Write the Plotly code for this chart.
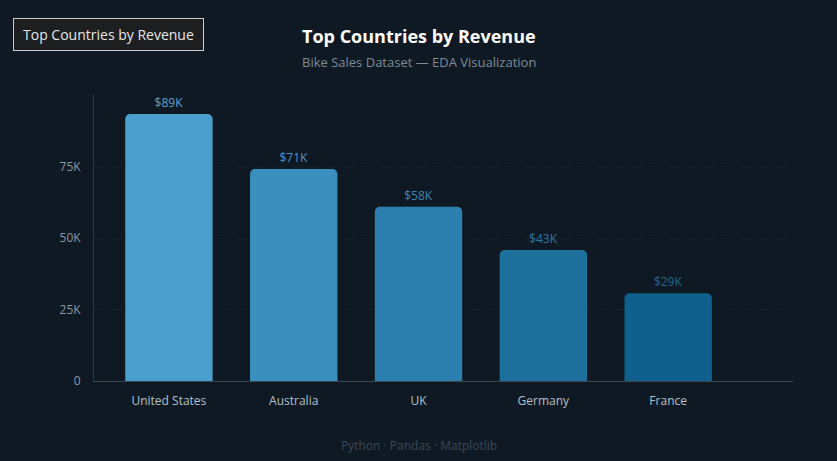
import plotly.graph_objects as go

countries = ["United States", "Australia", "UK", "Germany", "France"]
revenue = [93500, 74200, 61000, 45900, 30700]
labels = ["$89K", "$71K", "$58K", "$43K", "$29K"]
bar_colors = ["#4A9FCC", "#3A8FBF", "#2C80B0", "#1D6F9C", "#0E5F8C"]
label_colors = ["#5AA3D3", "#4A95C5", "#3A87B6", "#2B78A4", "#1E6A94"]
y_ticks = [0, 25000, 50000, 75000]
y_tick_text = ["0", "25K", "50K", "75K"]

BG = "#0F1923"
FONT = "Open Sans"

fig = go.Figure()
fig.add_trace(go.Bar(
    x=list(range(len(countries))),
    y=revenue,
    width=0.7,
    marker=dict(color=bar_colors, line=dict(width=0), cornerradius=5),
    text=labels,
    textposition="outside",
    textfont=dict(family=FONT, size=12, color=label_colors),
    cliponaxis=False,
    hoverinfo="skip",
))

fig.update_layout(
    width=837, height=461,
    paper_bgcolor=BG, plot_bgcolor=BG,
    margin=dict(l=94, r=44, t=94, b=80),
    showlegend=False,
    font=dict(family=FONT),
    xaxis=dict(
        range=[-0.6, 5.0],
        tickvals=list(range(len(countries))),
        ticktext=countries,
        tickfont=dict(family=FONT, size=12, color="#B4C0CC"),
        showgrid=False, zeroline=False,
        showline=True, linecolor="#3A4654", linewidth=1,
        ticks="", ticklabelstandoff=9,
    ),
    yaxis=dict(
        range=[0, 100500],
        tickvals=y_ticks, ticktext=y_tick_text,
        tickfont=dict(family=FONT, size=12, color="#8C98A5"),
        showgrid=True, gridcolor="#18232E", griddash="dash", gridwidth=1,
        zeroline=False,
        showline=True, linecolor="#2A3644", linewidth=1,
        ticks="", ticklabelstandoff=10,
    ),
    annotations=[
        dict(text="<b>Top Countries by Revenue</b>", xref="paper", yref="paper",
             x=(418.5 - 94) / 699, y=(381 - 36) / 287, xanchor="center", yanchor="middle",
             showarrow=False, font=dict(family=FONT, size=18, color="#FFFFFF")),
        dict(text="Bike Sales Dataset — EDA Visualization", xref="paper", yref="paper",
             x=(418.5 - 94) / 699, y=(381 - 62) / 287, xanchor="center", yanchor="middle",
             showarrow=False, font=dict(family=FONT, size=13, color="#7E8B98")),
        dict(text="Python · Pandas · Matplotlib", xref="paper", yref="paper",
             x=(418.5 - 94) / 699, y=(381 - 445) / 287, xanchor="center", yanchor="middle",
             showarrow=False, font=dict(family=FONT, size=12, color="#3C4855")),
        dict(text="Top Countries by Revenue", xref="paper", yref="paper",
             x=(108.5 - 94) / 699, y=(381 - 34.5) / 287, xanchor="center", yanchor="middle",
             showarrow=False, font=dict(family=FONT, size=14, color="#E8E8E8"),
             bgcolor="#1C1E20", bordercolor="#C8CCD0", borderwidth=1, borderpad=6,
             width=177),
    ],
)

fig.write_html("out.html")
